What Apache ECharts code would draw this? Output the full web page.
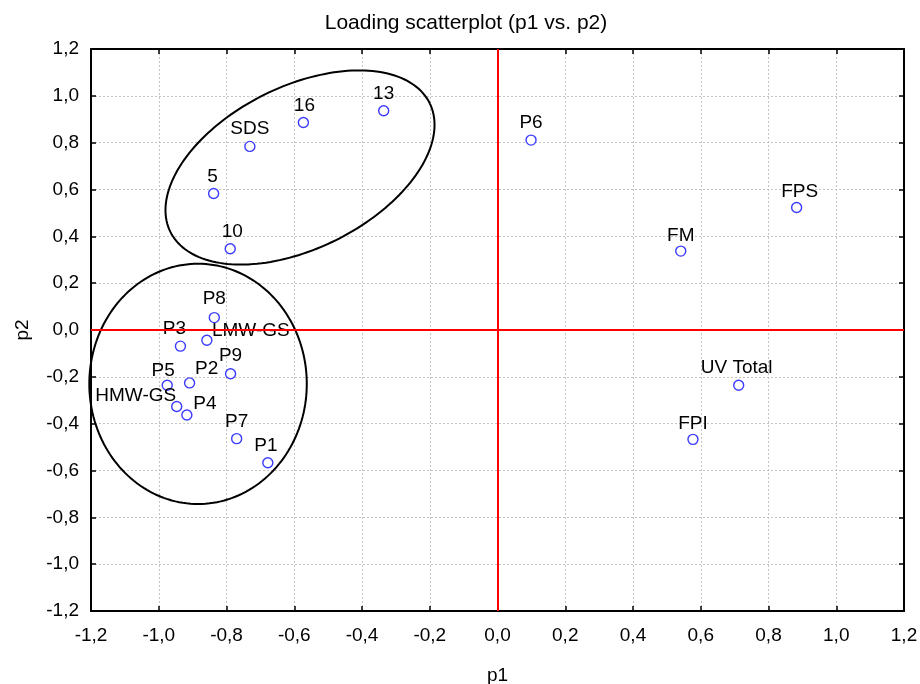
<!DOCTYPE html>
<html>
<head>
<meta charset="utf-8">
<script src="https://cdn.jsdelivr.net/npm/echarts@6/dist/echarts.min.js"></script>
<style>
html,body{margin:0;padding:0;background:#fff;}
#chart{width:920px;height:684px;}
</style>
</head>
<body>
<div id="chart"></div>
<script>
// ---- data ----
const pointNames = ['P8','LMW-GS','P3','P9','P2','P5','HMW-GS','P4','P7','P1',
                    '13','16','SDS','5','10','P6','FPS','FM','UV Total','FPI'];
const p1Values = [-0.836,-0.858,-0.936,-0.788,-0.909,-0.975,-0.947,-0.917,-0.770,-0.678,
                  -0.336,-0.573,-0.731,-0.838,-0.789,0.099,0.883,0.541,0.712,0.577];
const p2Values = [0.053,-0.044,-0.069,-0.187,-0.226,-0.236,-0.327,-0.363,-0.464,-0.567,
                  0.936,0.886,0.784,0.583,0.347,0.811,0.523,0.337,-0.236,-0.467];
const axisTicks = [-1.2,-1.0,-0.8,-0.6,-0.4,-0.2,0,0.2,0.4,0.6,0.8,1.0,1.2];
// cluster ellipses in data units: [centerX, centerY, axisAx, axisAy, axisBx, axisBy]
const clusterEllipses = [
  [-0.583, 0.694, 0.383, 0.274, 0.105, -0.311],
  [-0.884, -0.230, 0.321, 0, 0, 0.513]
];

// ---- label placement (style) ----
const labelOffsets = {
  'P8':[0,-2],'LMW-GS':[44,8],'P3':[-6,0],'P9':[0,-1],'P2':[17,3],'P5':[-4,3],
  'HMW-GS':[-41,6],'P4':[18,6],'P7':[0,0],'P1':[-2,0],'13':[0,0],'16':[1,0],
  'SDS':[0,0],'5':[-1,0],'10':[2,0],'P6':[0,0],'FPS':[3,1],'FM':[0,2],
  'UV Total':[-2,0],'FPI':[0,2]
};

const FONT = "'Liberation Sans', Arial, sans-serif";
function fmt(v){
  if (Math.abs(v) < 1e-9) return '0,0';
  return v.toFixed(1).replace('.', ',');
}

const scatterData = pointNames.map((n,i)=>({
  name:n,
  value:[p1Values[i], p2Values[i]]
}));

const chart = echarts.init(document.getElementById('chart'), null, {renderer:'canvas'});

const baseAxis = {
  min: axisTicks[0], max: axisTicks[axisTicks.length-1], interval: 0.2,
  axisLine:{show:true, onZero:false, lineStyle:{color:'#000', width:2}},
  axisTick:{show:true, inside:true, length:5, lineStyle:{color:'#000', width:1.5}},
};

chart.setOption({
  animation:false,
  backgroundColor:'#fff',
  title:{
    text:'Loading scatterplot (p1 vs. p2)',
    left:461, top:8, textAlign:'center',
    textStyle:{fontFamily:FONT, fontSize:21, fontWeight:'normal', color:'#000'}
  },
  grid:{left:91, right:16, top:49, bottom:73, containLabel:false, outerBoundsMode:'none'},
  xAxis:[
    Object.assign({}, baseAxis, {
      type:'value', position:'bottom',
      name:'p1', nameLocation:'middle', nameGap:55,
      nameTextStyle:{fontFamily:FONT, fontSize:19, color:'#000'},
      axisLabel:{show:true, margin:15, formatter:fmt, fontFamily:FONT, fontSize:19, color:'#000'},
      splitLine:{show:true, lineStyle:{color:'#c4c4c4', type:[2,2], width:1}}
    }),
    Object.assign({}, baseAxis, {
      type:'value', position:'top',
      axisLabel:{show:false}, splitLine:{show:false}
    })
  ],
  yAxis:[
    Object.assign({}, baseAxis, {
      type:'value', position:'left',
      name:'p2', nameLocation:'middle', nameGap:59, nameRotate:90,
      nameTextStyle:{fontFamily:FONT, fontSize:19, color:'#000'},
      axisLabel:{show:true, margin:12, formatter:fmt, fontFamily:FONT, fontSize:19, color:'#000'},
      splitLine:{show:true, lineStyle:{color:'#c4c4c4', type:[2,2], width:1}}
    }),
    Object.assign({}, baseAxis, {
      type:'value', position:'right',
      axisLabel:{show:false}, splitLine:{show:false}
    })
  ],
  series:[
    {
      type:'custom',
      xAxisIndex:0, yAxisIndex:0,
      clip:false, silent:true, z:3,
      data: clusterEllipses,
      encode:{x:0, y:1},
      renderItem:function(params, api){
        const cx=api.value(0), cy=api.value(1), ax=api.value(2), ay=api.value(3), bx=api.value(4), by=api.value(5);
        const pts=[];
        const N=180;
        for(let i=0;i<=N;i++){
          const t=i/N*2*Math.PI;
          pts.push(api.coord([cx+ax*Math.cos(t)+bx*Math.sin(t), cy+ay*Math.cos(t)+by*Math.sin(t)]));
        }
        return {type:'polyline', shape:{points:pts}, style:{fill:null, stroke:'#000', lineWidth:2}};
      }
    },
    {
      type:'scatter',
      xAxisIndex:0, yAxisIndex:0,
      z:4,
      symbol:'circle', symbolSize:10,
      itemStyle:{color:'#fff', borderColor:'#3b3bff', borderWidth:1.4, opacity:1},
      label:{show:true, position:'top', distance:2, formatter:'{b}',
             fontFamily:FONT, fontSize:19, color:'#000'},
      labelLayout:function(params){
        const off = labelOffsets[pointNames[params.dataIndex]] || [0,0];
        return {dx:off[0], dy:off[1], hideOverlap:false};
      },
      data: scatterData,
      markLine:{
        silent:true, symbol:'none', animation:false,
        label:{show:false},
        lineStyle:{color:'#ff0000', width:2, type:'solid'},
        data:[{xAxis:0},{yAxis:0}]
      }
    }
  ]
});
</script>
</body>
</html>
